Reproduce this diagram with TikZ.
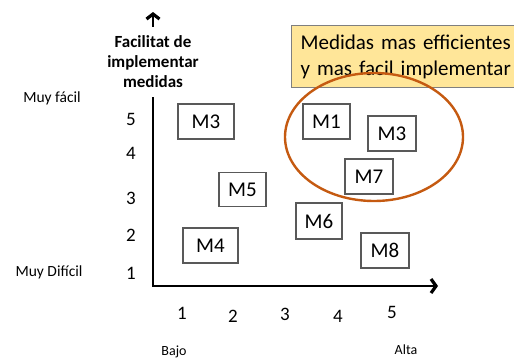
\documentclass[tikz,border=0pt]{standalone}
\usepackage{fontspec}
\setmainfont{Carlito}
\usetikzlibrary{arrows.meta}
\definecolor{ellc}{HTML}{C55A11}
\definecolor{yelc}{HTML}{FFE699}
\definecolor{yelb}{HTML}{7F7F7F}
\definecolor{bord}{HTML}{595959}
\begin{document}
\begin{tikzpicture}[x=1pt,y=-1pt,
  mbox/.style={draw=bord, line width=1.2pt, minimum height=35pt, inner sep=0pt, font=\fontsize{21}{25}\selectfont},
  num/.style={inner sep=0pt, font=\fontsize{19}{22}\selectfont},
  side/.style={inner sep=0pt, font=\fontsize{15.5}{18}\selectfont},
  small/.style={inner sep=0pt, font=\fontsize{14}{17}\selectfont},
  axisline/.style={line width=2.6pt, {Straight Barb[length=5pt,width=13pt,line width=3.2pt]}-{Straight Barb[length=5pt,width=14pt,line width=3.2pt]}}
]
\useasboundingbox (0,0) rectangle (514,362);
% axes
\coordinate (ytop) at (153,12);
\coordinate (corner) at (153,286);
\coordinate (xend) at (438,286);
\draw[axisline] (ytop) -- (corner) -- (xend);
\node[fill=white, align=center, minimum width=120pt, minimum height=70pt, inner sep=0pt,
  font=\fontsize{17}{20}\selectfont\bfseries] (ylab) at (153,62) {Facilitat de\\implementar\\medidas};
% side labels
\node[side] (fac) at (52,98) {Muy fácil};
\node[side] (dif) at (49,272) {Muy Difícil};
\node[small] (bajo) at (174,352) {Bajo};
\node[small] (alta) at (406,350) {Alta};
% y numbers
\node[num] (y5) at (131,119) {5};
\node[num] (y4) at (131,153) {4};
\node[num] (y3) at (131,198) {3};
\node[num] (y2) at (131,235) {2};
\node[num] (y1) at (131,273) {1};
% x numbers
\node[num] (x1) at (182,313) {1};
\node[num] (x2) at (233,316) {2};
\node[num] (x3) at (285,314) {3};
\node[num] (x4) at (338,316) {4};
\node[num] (x5) at (392,312) {5};
% boxes
\node[mbox, minimum width=56pt] (m3a) at (206,121.5) {M3};
\node[mbox, minimum width=47pt] (m1) at (326.5,121.5) {M1};
\node[mbox, minimum width=48pt] (m3b) at (392,133.5) {M3};
\node[mbox, minimum width=48pt] (m7) at (369,176.5) {M7};
\node[mbox, minimum width=47pt, minimum height=34pt] (m5) at (242.5,189.5) {M5};
\node[mbox, minimum width=46pt, minimum height=36pt] (m6) at (319,221) {M6};
\node[mbox, minimum width=48pt] (m8) at (385,250.5) {M8};
\node[mbox, minimum width=55pt] (m4) at (210.5,245.5) {M4};
% callout
\node[draw=yelb, fill=yelc, line width=1.2pt, anchor=north west, minimum height=62pt,
  inner xsep=9pt, inner ysep=0pt, text width=215pt, align=left,
  font=\fontsize{21}{26}\selectfont] (call) at (291,25) {Medidas mas efficientes\\y mas facil implementar};
% ellipse
\draw[ellc, line width=2.4pt] (374,137) ellipse [x radius=89, y radius=64];
\end{tikzpicture}
\end{document}
